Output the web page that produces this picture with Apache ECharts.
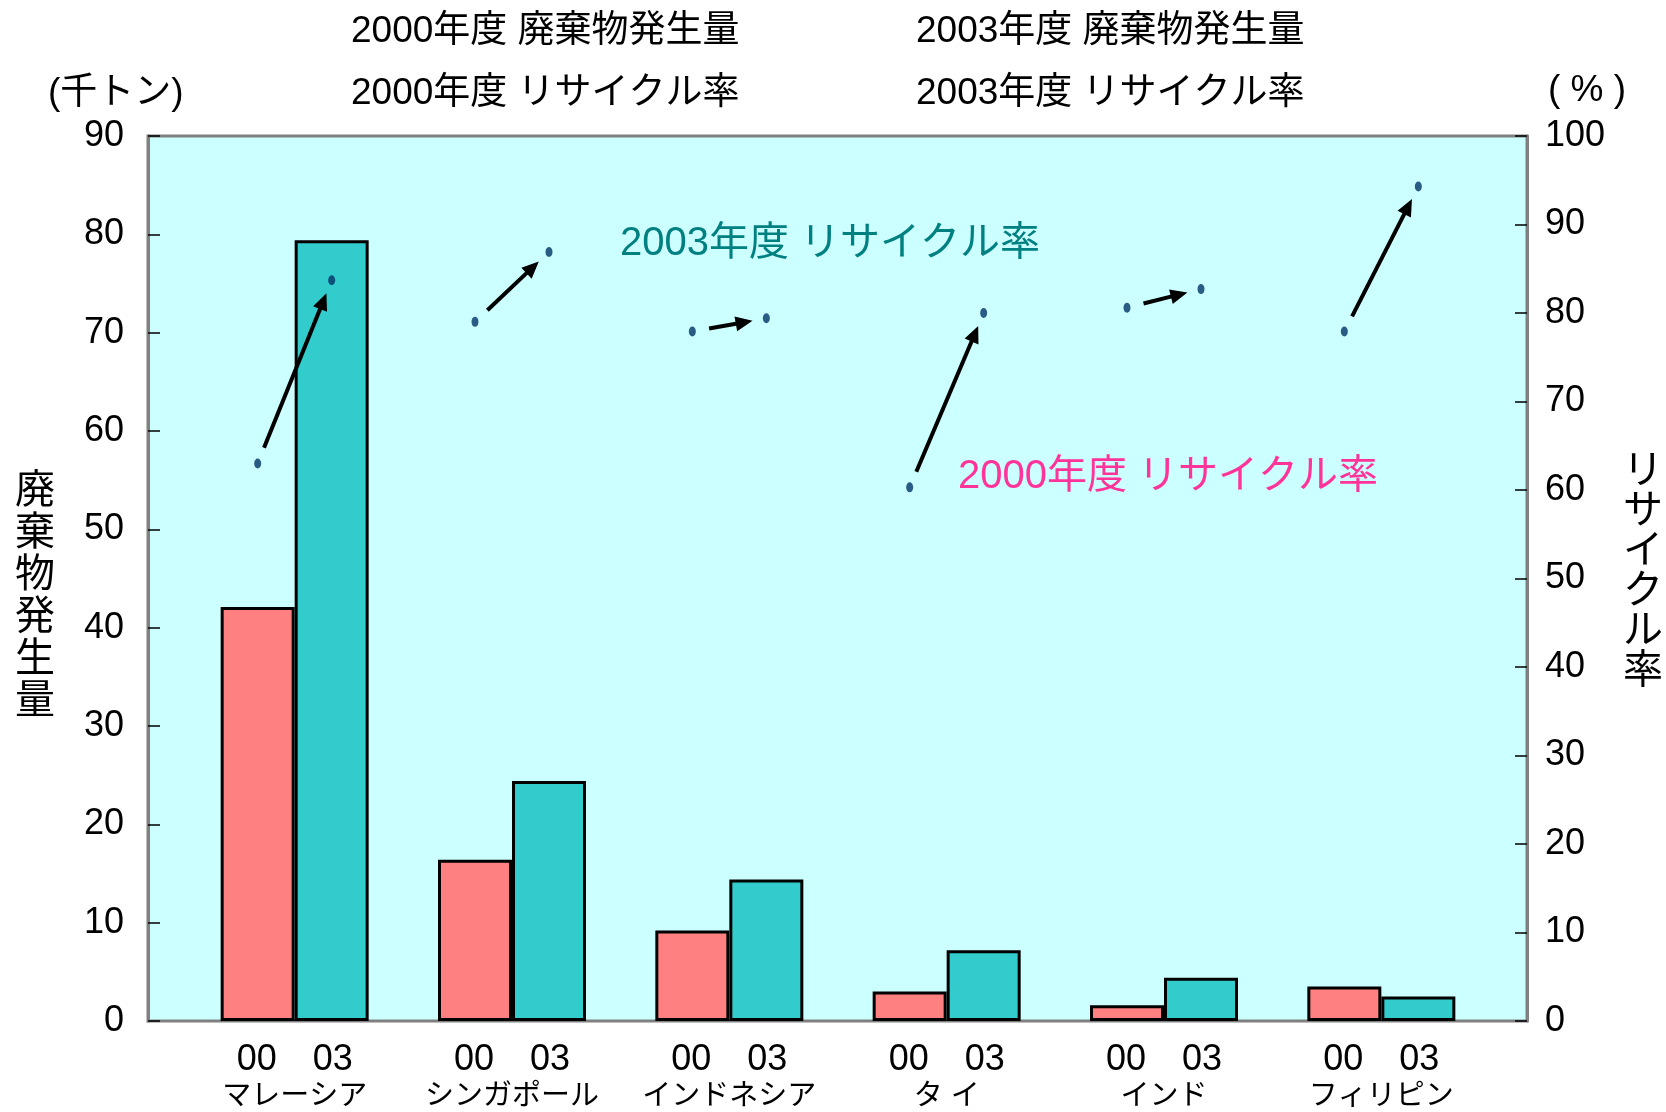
<!DOCTYPE html>
<html>
<head>
<meta charset="utf-8">
<script src="https://cdn.jsdelivr.net/npm/echarts@6/dist/echarts.min.js"></script>
<style>html,body{margin:0;padding:0;background:#fff;overflow:hidden;}#c{width:1666px;height:1112px;}</style>
</head>
<body>
<div id="c"></div>
<script>
const countries = ['マレーシア', 'シンガポール', 'インドネシア', 'タ イ', 'インド', 'フィリピン'];
const yearLabels = ['00', '03'];
const waste2000 = [42.1, 16.4, 9.2, 3.0, 1.6, 3.5];
const waste2003 = [79.4, 24.4, 14.4, 7.2, 4.4, 2.5];
const rate2000 = [63.0, 79.0, 77.9, 60.3, 80.6, 77.9];
const rate2003 = [83.7, 86.9, 79.4, 80.0, 82.7, 94.3];
const seriesNames = ['2000年度 廃棄物発生量', '2003年度 廃棄物発生量', '2000年度 リサイクル率', '2003年度 リサイクル率'];
const leftAxisName = '廃棄物発生量';
const rightAxisName = 'リサイクル率';

const FONT = "'Liberation Sans', 'Noto Sans CJK JP', sans-serif";
const BAR_W = 74;
const HALF = BAR_W / 2;

const chart = echarts.init(document.getElementById('c'));

const arrowData = countries.map((c, i) => [i, rate2000[i], rate2003[i]]);

const option = {
  backgroundColor: '#ffffff',
  textStyle: { fontFamily: FONT },
  grid: [
    { left: 148, right: 139, top: 136, bottom: 91, containLabel: false, outerBoundsMode: 'none', show: true, backgroundColor: '#CCFFFF', borderColor: '#808080', borderWidth: 3 },
    { left: 186, right: 176, top: 136, bottom: 91, containLabel: false, outerBoundsMode: 'none' }
  ],
  xAxis: [
    { type: 'category', gridIndex: 0, data: countries, show: false },
    {
      type: 'category', gridIndex: 1, data: countries,
      axisLine: { show: false }, axisTick: { show: false },
      axisLabel: {
        margin: 19,
        formatter: (v) => '{a|' + yearLabels[0] + '}{a|' + yearLabels[1] + '}\n{b|' + v + '}',
        rich: {
          a: { fontSize: 36, width: 76, align: 'center', lineHeight: 40, color: '#000', fontFamily: FONT },
          b: { fontSize: 29, lineHeight: 34, color: '#000', fontFamily: FONT }
        }
      }
    }
  ],
  yAxis: [
    {
      type: 'value', gridIndex: 0, min: 0, max: 90, interval: 10, position: 'left',
      axisLine: { show: true, lineStyle: { color: '#808080', width: 3 } },
      axisTick: { show: true, inside: true, length: 12, lineStyle: { color: '#000', width: 1.5 } },
      axisLabel: { fontSize: 36, color: '#000', margin: 24, fontFamily: FONT },
      splitLine: { show: false }
    },
    {
      type: 'value', gridIndex: 0, min: 0, max: 100, interval: 10, position: 'right',
      axisLine: { show: true, lineStyle: { color: '#808080', width: 3 } },
      axisTick: { show: true, inside: true, length: 12, lineStyle: { color: '#000', width: 1.5 } },
      axisLabel: { fontSize: 36, color: '#000', margin: 18, fontFamily: FONT },
      splitLine: { show: false }
    },
    { type: 'value', gridIndex: 1, min: 0, max: 90, show: false },
    { type: 'value', gridIndex: 1, min: 0, max: 100, show: false }
  ],
  graphic: [
    { type: 'text', left: 351, top: 13, style: { text: seriesNames[0], font: '37px ' + FONT, fill: '#000' } },
    { type: 'text', left: 351, top: 75, style: { text: seriesNames[2], font: '37px ' + FONT, fill: '#000' } },
    { type: 'text', left: 916, top: 13, style: { text: seriesNames[1], font: '37px ' + FONT, fill: '#000' } },
    { type: 'text', left: 916, top: 75, style: { text: seriesNames[3], font: '37px ' + FONT, fill: '#000' } },
    { type: 'text', left: 48, top: 75, style: { text: '(千トン)', font: '37px ' + FONT, fill: '#000' } },
    { type: 'text', left: 1548, top: 72, style: { text: '( % )', font: '37px ' + FONT, fill: '#000' } },
    { type: 'text', left: 15, top: 471, style: { text: leftAxisName.split('').join('\n'), font: '40px ' + FONT, lineHeight: 42, fill: '#000' } },
    { type: 'text', left: 1623, top: 452, style: { text: rightAxisName.split('').join('\n'), font: '40px ' + FONT, lineHeight: 40, fill: '#000' } },
    { type: 'text', left: 620, top: 224, z: 50, style: { text: '2003年度 リサイクル率', font: '40px ' + FONT, fill: '#008080' } },
    { type: 'text', left: 958, top: 457, z: 50, style: { text: '2000年度 リサイクル率', font: '40px ' + FONT, fill: '#FF3399' } }
  ],
  series: [
    {
      name: seriesNames[0], type: 'bar', xAxisIndex: 1, yAxisIndex: 2, data: waste2000,
      barWidth: BAR_W, barGap: '0%',
      itemStyle: { color: '#FF8080', borderColor: '#000', borderWidth: 3 }, z: 3
    },
    {
      name: seriesNames[1], type: 'bar', xAxisIndex: 1, yAxisIndex: 2, data: waste2003,
      barWidth: BAR_W, barGap: '0%',
      itemStyle: { color: '#33CCCC', borderColor: '#000', borderWidth: 3 }, z: 3
    },
    {
      name: seriesNames[2], type: 'scatter', xAxisIndex: 1, yAxisIndex: 3, data: rate2000,
      symbol: 'circle', symbolSize: [7, 10], symbolOffset: [-HALF, 0],
      itemStyle: { color: '#003366' }, z: 10
    },
    {
      name: seriesNames[3], type: 'scatter', xAxisIndex: 1, yAxisIndex: 3, data: rate2003,
      symbol: 'circle', symbolSize: [7, 10], symbolOffset: [HALF, 0],
      itemStyle: { color: '#003366' }, z: 10
    },
    {
      name: 'arrows', type: 'custom', xAxisIndex: 1, yAxisIndex: 3, data: arrowData,
      encode: { x: 0, y: [1, 2] }, z: 9, silent: true,
      renderItem: function (params, api) {
        const i = api.value(0);
        const a = api.coord([i, api.value(1)]);
        const b = api.coord([i, api.value(2)]);
        a[0] -= HALF; b[0] += HALF;
        const dx = b[0] - a[0], dy = b[1] - a[1];
        const len = Math.sqrt(dx * dx + dy * dy);
        const ux = dx / len, uy = dy / len;
        const nx = -uy, ny = ux;
        const s = [a[0] + ux * 17, a[1] + uy * 17];
        const e = [b[0] - ux * 14, b[1] - uy * 14];
        const headL = 17, headW = 7.5;
        const base = [e[0] - ux * headL, e[1] - uy * headL];
        const lineEnd = [e[0] - ux * (headL - 3), e[1] - uy * (headL - 3)];
        return {
          type: 'group',
          children: [
            { type: 'line', shape: { x1: s[0], y1: s[1], x2: lineEnd[0], y2: lineEnd[1] }, style: { stroke: '#000', lineWidth: 4 } },
            { type: 'polygon', shape: { points: [e, [base[0] + nx * headW, base[1] + ny * headW], [base[0] - nx * headW, base[1] - ny * headW]] }, style: { fill: '#000' } }
          ]
        };
      }
    }
  ]
};
chart.setOption(option);
</script>
</body>
</html>
